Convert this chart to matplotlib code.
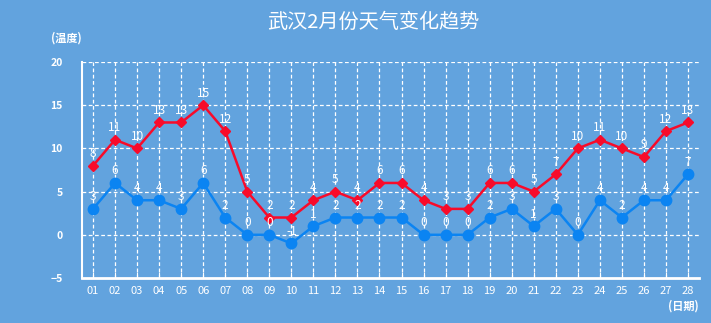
import matplotlib
matplotlib.use("Agg")
import matplotlib.pyplot as plt

plt.rcParams['font.family'] = ['Noto Sans CJK SC', 'DejaVu Sans']

days = ["%02d" % d for d in range(1, 29)]
high = [8, 11, 10, 13, 13, 15, 12, 5, 2, 2, 4, 5, 4, 6, 6, 4, 3, 3, 6, 6, 5, 7, 10, 11, 10, 9, 12, 13]
low = [3, 6, 4, 4, 3, 6, 2, 0, 0, -1, 1, 2, 2, 2, 2, 0, 0, 0, 2, 3, 1, 3, 0, 4, 2, 4, 4, 7]
yticks = [-5, 0, 5, 10, 15, 20]

bg = '#62a3de'
red = '#f80b2a'
blue = '#0b84f2'

fig = plt.figure(figsize=(7.11, 3.23), dpi=100, facecolor=bg)
ax = fig.add_axes([82 / 711, 1 - 278 / 323, (699 - 82) / 711, (278 - 62) / 323])
ax.set_facecolor(bg)

x = list(range(len(days)))
ax.plot(x, high, color=red, lw=1.8, marker='D', ms=5.5, zorder=3)
ax.plot(x, low, color=blue, lw=1.8, marker='o', ms=7.5, zorder=3)

for xi, v in zip(x, high):
    ax.annotate(str(v), (xi, v), xytext=(0, 4), textcoords='offset points',
                ha='center', va='bottom', color='white', fontsize=8.5, zorder=4)
for xi, v in zip(x, low):
    ax.annotate(str(v), (xi, v), xytext=(0, 4), textcoords='offset points',
                ha='center', va='bottom', color='white', fontsize=8.5, zorder=4)

ax.set_xlim(-0.5, len(days) - 0.5)
ax.set_ylim(-5, 20)
ax.set_xticks(x)
ax.set_xticklabels(days, color='white', fontsize=8)
ax.set_yticks(yticks)
ax.set_yticklabels([str(t) if t >= 0 else '\u22125' for t in yticks],
                   color='white', fontsize=7.5, fontweight='bold')
ax.tick_params(axis='x', direction='in', length=4, color='white', pad=6)
ax.tick_params(axis='y', length=0, pad=14)

for t in yticks[1:]:
    ax.axhline(t, color='white', lw=0.9, ls=(0, (3, 2)), zorder=1)
for xi in x:
    ax.axvline(xi, color='white', lw=0.9, ls=(0, (3, 2)), zorder=1)

for s in ['top', 'right']:
    ax.spines[s].set_visible(False)
ax.spines['left'].set_color('white')
ax.spines['left'].set_linewidth(1.5)
ax.spines['bottom'].set_color('white')
ax.spines['bottom'].set_linewidth(2)

fig.text(373 / 711, 1 - 22 / 323, '武汉2月份天气变化趋势', color='white',
         fontsize=14.5, ha='center', va='center')
fig.text(66 / 711, 1 - 38 / 323, '(温度)', color='white', fontsize=8,
         fontweight='bold', ha='center', va='center')
fig.text(683 / 711, 1 - 306 / 323, '(日期)', color='white', fontsize=8,
         fontweight='bold', ha='center', va='center')

fig.savefig('out.png', dpi=100, facecolor=bg)
